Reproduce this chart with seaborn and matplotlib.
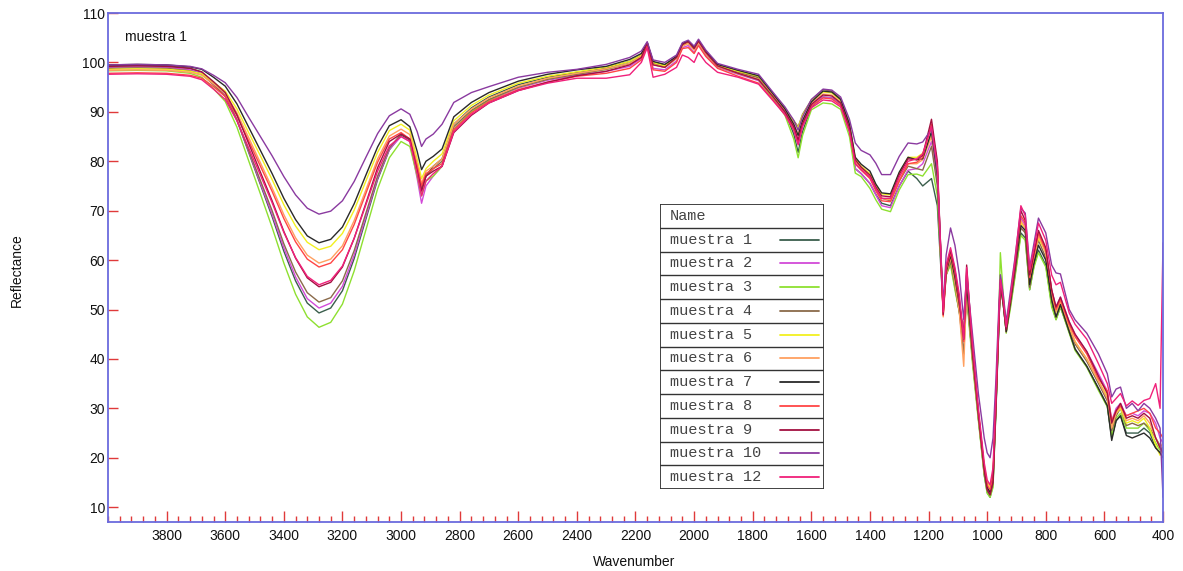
import matplotlib
matplotlib.use("Agg")
import matplotlib.pyplot as plt
from matplotlib.ticker import MultipleLocator, FixedLocator
from matplotlib.patches import Rectangle
import seaborn as sns
import pandas as pd

# wavenumber grid (cm-1)
wavenumber = [
    4000, 3900, 3800, 3720, 3680, 3640, 3600, 3560, 3520, 3480, 3440, 3400, 3360, 3320,
    3280, 3240, 3200, 3160, 3120, 3080, 3040, 3000,
    2970, 2945, 2930, 2915, 2890, 2860, 2820, 2760, 2700, 2600, 2500, 2400, 2300, 2220,
    2180, 2160, 2140, 2100, 2060, 2040, 2020, 2000, 1985, 1960, 1920,
    1850, 1780, 1730, 1690, 1660, 1645, 1630, 1600, 1560, 1530, 1500, 1470, 1450, 1430,
    1400, 1380, 1360, 1330, 1300, 1270, 1240, 1220, 1190,
    1170, 1150, 1140, 1125, 1110, 1095, 1080, 1070, 1050, 1030, 1010, 1000, 990, 980,
    970, 960, 955, 945, 935, 920, 905, 885, 870, 855,
    840, 825, 800, 780, 765, 750, 720, 700, 660, 620, 590, 575, 560, 545, 525, 505,
    485, 465, 445, 425, 410, 400,
]

m1 = [
    99.3, 99.4, 99.3, 98.8, 98.0, 95.8, 93.3, 88.3, 81.8, 75.3, 68.8, 61.8, 55.8, 51.3, 49.3, 50.3, 53.8, 60.3, 68.3, 76.3, 82.3, 85.3,
    84.3, 78, 74, 77, 79, 80.5, 87.5, 90.8, 93, 95.5, 97, 98, 98.9, 100.2, 101.5, 104, 100, 99.4, 101.2, 103.7, 104.2, 102.9, 104.4, 102.1, 99.5,
    98.2, 97, 93.2, 90, 85.5, 81.8, 86, 91, 93, 92.8, 91.5, 86, 78.5, 77.5, 75.5, 73.3, 71.5, 71, 75, 78, 76.5, 75, 76.5,
    71, 50, 57, 59.5, 54.5, 49.5, 44, 53, 40, 28, 16.5, 13, 12, 14.5, 29.5, 46.5, 57, 51, 45.5, 51, 57, 65.5, 64.5, 54,
    59, 62, 59, 51, 48, 50.5, 45.5, 42, 38.5, 34, 30.5, 24, 27.5, 28.5, 25, 25, 25, 26, 25, 22, 21, 22,
]
m2 = [
    99.0, 99.1, 99.0, 98.5, 97.8, 95.6, 93.2, 88.3, 82.0, 75.6, 69.3, 62.5, 56.6, 52.2, 50.3, 51.3, 54.7, 61.0, 68.8, 76.6, 82.4, 85.0,
    84, 76.5, 71.5, 75, 77, 79, 86.5, 90, 92.3, 94.8, 96.4, 97.4, 98.2, 99.2, 100.8, 103.5, 98.8, 98.5, 100.3, 103, 103.4, 102, 103.6, 101.4, 99,
    97.6, 96.3, 92.6, 89.7, 86.5, 83.5, 87.2, 91.2, 93, 92.8, 91.4, 86.2, 78.5, 77.5, 75.5, 73.2, 71, 70.6, 75, 78.2, 78.5, 79.5, 84,
    76.5, 49, 57.5, 61, 56.5, 51, 44.5, 56, 41.5, 29, 17.5, 14, 13, 16, 31, 48, 56.5, 52, 46.5, 52.5, 59, 68.5, 67, 56,
    61, 65, 62, 54, 50.5, 52.5, 47.5, 45, 41.5, 37, 33.5, 27.5, 30, 31, 28.5, 29, 28.5, 29.5, 29, 27, 24, 23,
]
m3 = [
    98.3, 98.4, 98.3, 97.8, 97.0, 94.7, 92.1, 86.9, 80.1, 73.4, 66.6, 59.4, 53.1, 48.5, 46.4, 47.4, 51.1, 57.8, 66.1, 74.4, 80.7, 84.0,
    83, 77, 73, 76, 77, 79, 86.5, 90, 92.4, 95, 96.6, 97.7, 98.6, 99.8, 101.2, 103.8, 99.6, 99, 100.8, 103.4, 103.9, 102.6, 104, 101.8, 99.2,
    97.8, 96.5, 92.6, 89.3, 84.5, 80.7, 85.2, 90.4, 91.8, 91.6, 90.5, 85, 77.6, 76.9, 74.5, 72.2, 70.3, 69.8, 74.2, 77.3, 77.4, 77, 79.5,
    73, 50.5, 57, 59, 54, 49.5, 44.5, 52.5, 39, 27.5, 16.5, 12.8, 12, 14, 30, 49, 61.5, 53, 45.2, 50.5, 56.5, 65, 64, 54,
    58.6, 61.5, 58.6, 50.5, 47.9, 50.5, 45.2, 41.7, 38.3, 33.6, 30.3, 24.5, 28, 29, 26, 26, 26, 27, 25.5, 23, 21.5, 22,
]
m4 = [
    98.8, 98.9, 98.8, 98.3, 97.6, 95.5, 93.1, 88.4, 82.2, 76.1, 70.0, 63.3, 57.6, 53.4, 51.5, 52.4, 55.8, 61.9, 69.5, 77.0, 82.7, 85.5,
    84.5, 78.5, 74.5, 77, 78.5, 80, 87, 90.3, 92.5, 95, 96.6, 97.6, 98.6, 99.8, 101.2, 103.8, 99.8, 99.2, 101, 103.5, 104, 102.7, 104.2, 101.9, 99.3,
    98, 96.9, 93.4, 90.5, 88.2, 87, 89.5, 92.4, 94.5, 94.2, 92.6, 87.6, 80, 78.5, 76.8, 74.5, 72.5, 72, 76, 79, 78.5, 78.2, 83,
    75, 49.5, 57, 60, 55, 49.5, 41, 53.5, 40, 28, 17, 13.5, 12.5, 15, 30, 47, 55, 51, 45.5, 51.5, 57.5, 66.5, 65.5, 54.5,
    60, 64, 60.5, 52, 48.5, 51, 46, 43, 39.5, 35, 31.5, 25.5, 28.5, 30, 26.5, 27, 26.5, 27, 26, 24, 22.5, 21,
]
m5 = [
    98.6, 98.7, 98.6, 98.2, 97.7, 96.0, 94.2, 90.6, 85.8, 81.1, 76.3, 71.2, 66.9, 63.6, 62.1, 62.8, 65.4, 70.1, 76.0, 81.8, 86.2, 87.5,
    86.3, 80.5, 76.5, 78.5, 80, 81.5, 88.2, 91.3, 93.4, 95.8, 97.2, 98.1, 99, 100.2, 101.5, 103.8, 100, 99.3, 101, 103.5, 104, 102.8, 104.2, 102, 99.4,
    98.2, 97.2, 93.6, 90.7, 88, 86.8, 89.3, 92.2, 94, 93.8, 92.3, 87.5, 80.5, 79, 77.5, 75.2, 73.4, 73.2, 77.6, 80.8, 80.8, 81.6, 85.5,
    78, 49.5, 58, 61, 57, 51, 44, 56, 41.5, 29, 18.5, 15, 14, 16.5, 31, 47.5, 55.5, 51.5, 46, 52, 58.5, 67.5, 66.5, 55.5,
    60.5, 64.5, 61.5, 53, 49.5, 51.5, 46.5, 43.5, 40, 35.5, 32.5, 26.5, 29, 30, 27, 27.5, 27, 28, 26, 22.5, 20.5, 22,
]
m6 = [
    98.4, 98.5, 98.4, 98.0, 97.4, 95.7, 93.7, 89.8, 84.8, 79.7, 74.6, 69.2, 64.5, 61.0, 59.4, 60.2, 62.9, 68.0, 74.2, 80.5, 85.1, 86.5,
    85.4, 79.5, 75.5, 78, 79, 80.5, 87.5, 90.6, 92.8, 95.2, 96.8, 97.8, 98.7, 99.8, 101.2, 103.6, 99.6, 99, 100.8, 103.3, 103.8, 102.5, 104, 101.8, 99.2,
    97.8, 96.6, 93.2, 90.3, 87.4, 85.5, 88.3, 91.8, 93.6, 93.4, 92, 87, 80, 78.5, 76.8, 74.5, 72.5, 72.2, 76.2, 79.5, 79.5, 80.3, 85,
    77.5, 48.5, 57, 60.5, 55.5, 49.5, 38.5, 54, 40, 28.5, 17, 15, 14.5, 17, 31, 47.5, 55, 51, 45.5, 51.5, 58, 68, 66.5, 55,
    60.5, 65, 61.5, 53, 49.5, 51.5, 46.5, 43.5, 40, 35.5, 32, 26, 29, 30.5, 27.5, 28, 27.5, 28.5, 27, 24, 22, 23,
]
m7 = [
    99.5, 99.6, 99.5, 99.1, 98.6, 97.0, 95.2, 91.6, 86.9, 82.2, 77.5, 72.5, 68.2, 64.9, 63.5, 64.2, 66.7, 71.4, 77.2, 82.9, 87.2, 88.4,
    87, 82, 78.3, 80, 81, 82.5, 89, 91.9, 93.9, 96.2, 97.6, 98.5, 99.2, 100.6, 101.8, 104, 100.2, 99.6, 101.2, 103.8, 104.3, 103, 104.5, 102.2, 99.6,
    98.4, 97.3, 93.6, 90.6, 87.5, 85.2, 88.2, 92, 94.2, 94, 92.5, 87.5, 80.8, 79.4, 78, 75.4, 73.6, 73.4, 77.8, 80.8, 80.3, 80.5, 86,
    77, 50, 57.5, 61, 56.5, 51, 45, 55, 41, 29, 18, 14, 13, 16, 30.5, 47, 55, 51, 45.5, 51.5, 58, 67, 66, 55,
    59.5, 63, 60, 52, 48.5, 51, 45.5, 42, 38.5, 34, 30.5, 23.5, 27.5, 28.5, 24.5, 24, 24.5, 25, 24, 22, 21, 20,
]
m8 = [
    97.8, 97.9, 97.8, 97.4, 96.8, 95.1, 93.1, 89.2, 84.1, 79.0, 73.9, 68.4, 63.7, 60.2, 58.6, 59.4, 62.1, 67.2, 73.5, 79.8, 84.5, 85.8,
    84.5, 79, 75, 77.5, 78.5, 79.5, 86.4, 89.8, 92.1, 94.5, 96, 97.2, 97.8, 98.8, 100.5, 103.3, 98.5, 98.2, 100, 102.8, 103, 101.8, 103.4, 101.2, 98.8,
    97.2, 95.8, 92.4, 89.5, 86.6, 84, 87.5, 91.2, 92.8, 92.6, 91.3, 86.3, 79.5, 78.2, 76.5, 74, 72, 71.8, 76, 79.5, 79.8, 80.8, 87.5,
    79, 48.8, 58, 61.5, 57.5, 51.5, 43.5, 57.5, 42, 29.5, 18, 14.5, 13.5, 16, 31.5, 48.5, 56, 52, 46.5, 52.5, 59, 69, 67.5, 56.5,
    61, 65.5, 62, 54, 50, 52, 47, 44.5, 41, 36, 33.5, 27.5, 29.5, 30.5, 28.5, 29, 29.5, 30, 29, 26, 25, 24,
]
m9 = [
    99.2, 99.3, 99.2, 98.8, 98.1, 96.1, 93.9, 89.4, 83.6, 77.8, 72.0, 65.8, 60.4, 56.4, 54.6, 55.5, 58.6, 64.4, 71.5, 78.7, 84.0, 85.5,
    84.5, 78, 74, 77, 78, 79, 85.8, 89.3, 91.8, 94.3, 96, 97.3, 98.2, 99.5, 101, 104, 99.5, 99, 101, 103.6, 104.2, 102.8, 104.3, 102, 99.3,
    97.8, 96.5, 93, 90, 87, 84.3, 87.6, 91.5, 93.4, 93.2, 91.8, 86.8, 80.3, 78.8, 77.2, 74.8, 73, 72.8, 77.3, 80.5, 80.3, 81.2, 88.5,
    80, 49, 58.5, 62, 58, 52, 44, 59, 42, 29, 17.5, 13.5, 12.5, 15, 31, 48, 55.5, 51.5, 46, 52.5, 59, 70, 68, 57,
    61.5, 66, 62.5, 54, 50.5, 52.5, 47.5, 45, 41.5, 36.5, 33, 27, 29.5, 31, 28, 28.5, 28, 29, 28, 24, 22, 21,
]
m10 = [
    99.5, 99.6, 99.5, 99.2, 98.7, 97.4, 95.9, 92.9, 88.9, 85.0, 81.1, 76.9, 73.2, 70.5, 69.3, 69.9, 72.0, 75.9, 80.8, 85.6, 89.2, 90.6,
    89.5, 86, 83, 84.5, 85.5, 87.5, 91.9, 93.9, 95.1, 97, 98, 98.6, 99.6, 101, 102.3, 104.2, 100.5, 100, 101.5, 104, 104.5, 103.3, 104.7, 102.5, 99.8,
    98.6, 97.6, 93.9, 91, 88.3, 86.3, 89, 92.5, 94.6, 94.4, 93, 88.5, 83.7, 82.2, 81.3, 79.6, 77.3, 77.3, 81, 83.7, 83.5, 83.9, 86.5,
    78, 51, 61, 66.5, 63, 57, 48, 57, 45, 33, 24, 21, 20, 24, 36, 51, 57, 53, 47.5, 54, 60.5, 70.5, 69.5, 58.5,
    63.5, 68.5, 65.5, 59, 57.4, 57.2, 50, 47.9, 45.2, 41, 37, 32.3, 33.9, 34.3, 30, 31, 29.5, 31, 30, 28, 26, 12,
]
m12 = [
    97.6, 97.7, 97.6, 97.2, 96.5, 94.6, 92.5, 88.2, 82.7, 77.2, 71.6, 65.6, 60.5, 56.7, 55.0, 55.9, 58.8, 64.4, 71.2, 78.0, 83.1, 85.0,
    84, 77.5, 73, 76, 77.5, 79, 86, 89.5, 91.8, 94.3, 95.8, 96.8, 96.8, 97.5, 100, 103, 97, 97.6, 99, 101.5, 101, 100, 102, 100, 98,
    97, 95.6, 92.2, 89.4, 86.3, 83.3, 87, 90.8, 92.4, 92.2, 91, 86, 79.5, 78.3, 76.8, 74.4, 72.5, 72.5, 76.8, 80, 80.5, 81.5, 87,
    79, 49.5, 59, 62.5, 58.5, 53, 44, 58.5, 43, 30, 19, 15.5, 14.5, 18, 33, 49, 56, 52, 46.5, 53, 60, 71, 69, 58,
    62.5, 67.5, 64, 57, 55, 55.5, 49.3, 47, 44, 39, 35, 31, 32, 33, 30.5, 31.5, 30.6, 31.6, 32, 35, 30, 63.5,
]

names = ["muestra 1", "muestra 2", "muestra 3", "muestra 4", "muestra 5", "muestra 6",
         "muestra 7", "muestra 8", "muestra 9", "muestra 10", "muestra 12"]
colors = ["#3a5e4c", "#d24ad8", "#8ee030", "#8a6a4a", "#f2f020", "#ffa060",
          "#2a2a2a", "#ff4545", "#a31040", "#8a3aa0", "#f0207a"]
series = [m1, m2, m3, m4, m5, m6, m7, m8, m9, m10, m12]

rows = []
for name, vals in zip(names, series):
    assert len(vals) == len(wavenumber), name
    for w, v in zip(wavenumber, vals):
        rows.append((name, w, v))
df = pd.DataFrame(rows, columns=["Name", "Wavenumber", "Reflectance"])

sns.set_style("white")
plt.rcParams["font.family"] = ["Liberation Sans", "DejaVu Sans"]

W, H = 1183, 571
fig = plt.figure(figsize=(W / 100, H / 100), dpi=100)
ax = fig.add_axes([108 / W, 1 - 522 / H, 1055 / W, 509 / H])

sns.lineplot(data=df, x="Wavenumber", y="Reflectance", hue="Name",
             palette=dict(zip(names, colors)), sort=False, estimator=None,
             legend=False, lw=1.0, ax=ax)

ax.set_xlim(4000, 400)
ax.set_ylim(7, 110)
ax.xaxis.set_major_locator(FixedLocator(list(range(3800, 399, -200))))
ax.xaxis.set_minor_locator(MultipleLocator(40))
ax.yaxis.set_major_locator(MultipleLocator(10))
tick_red = "#e03a3a"
ax.tick_params(axis="x", which="major", direction="in", length=8, width=1,
               color=tick_red, labelsize=10, labelcolor="#111111", pad=5,
               bottom=True, top=False)
ax.tick_params(axis="x", which="minor", direction="in", length=4.5, width=1,
               color=tick_red, bottom=True, top=False)
ax.tick_params(axis="y", which="major", direction="in", length=7, width=1,
               color=tick_red, labelsize=10, labelcolor="#111111", pad=2,
               left=True, right=False)
ax.set_xlabel("")
ax.set_ylabel("")
for s in ax.spines.values():
    s.set_color("#6b6bdd")
    s.set_linewidth(1.3)

ax.text(0.016, 0.952, "muestra 1", transform=ax.transAxes, fontsize=10,
        va="center", color="#111111")
fig.text(634 / W, 1 - 562 / H, "Wavenumber", ha="center", va="center",
         fontsize=10, color="#111111")
fig.text(17 / W, 1 - 270 / H, "Reflectance", rotation=90, ha="center",
         va="center", fontsize=10, color="#111111")

# table-style legend
lx0, ly0, lw_, lh = 660, 204, 164, 285
leg = fig.add_axes([lx0 / W, 1 - (ly0 + lh) / H, lw_ / W, lh / H])
leg.set_xlim(0, lw_)
leg.set_ylim(lh, 0)
leg.axis("off")
row_h = lh / 12
leg.add_patch(Rectangle((0, 0), lw_, lh, fill=True, facecolor="white",
                        edgecolor="#333333", lw=1.3))
leg.text(10, row_h / 2, "Name", family="Liberation Mono", fontsize=11,
         color="#444444", va="center")
for i, (name, c) in enumerate(zip(names, colors)):
    y0 = row_h * (i + 1)
    leg.plot([0, lw_], [y0, y0], color="#333333", lw=1.0)
    yc = y0 + row_h / 2
    leg.text(10, yc, name, family="Liberation Mono", fontsize=11,
             color="#444444", va="center")
    leg.plot([120, 159], [yc, yc], color=c, lw=1.3)

fig.savefig("out.png", dpi=100)
